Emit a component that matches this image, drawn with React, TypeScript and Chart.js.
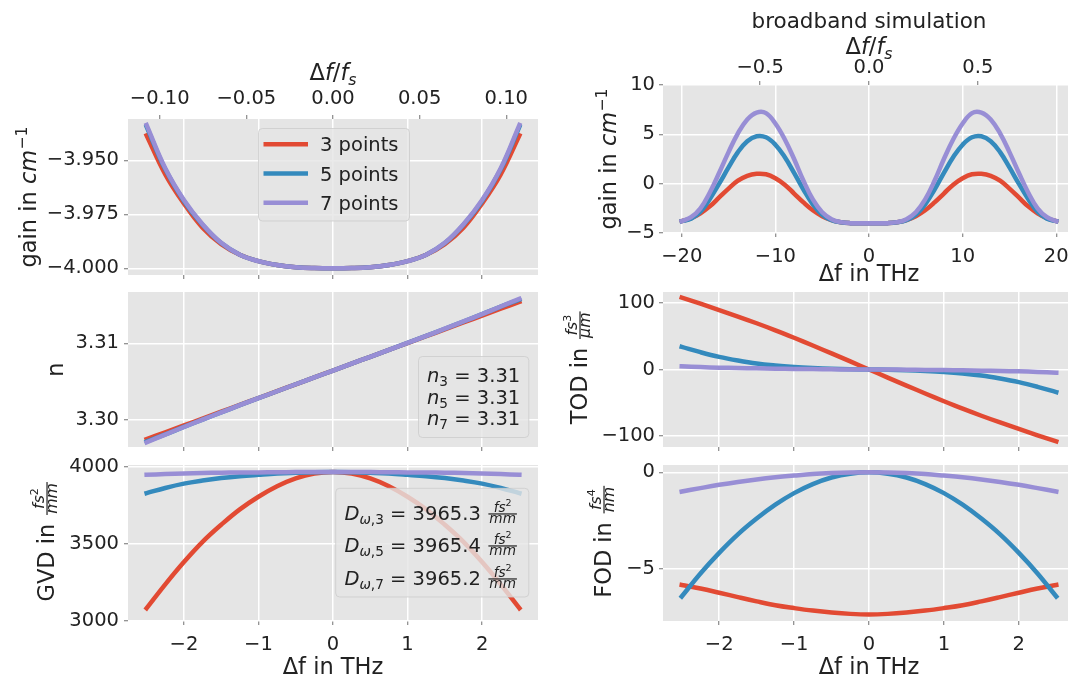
import React, { useEffect, useRef } from 'react';
import { Chart, registerables } from 'chart.js';

Chart.register(...registerables);

// ---------- styling ----------
const RED = '#E24A33';
const BLUE = '#348ABD';
const PURPLE = '#988ED5';
const PLOT_BG = '#E5E5E5';
const TEXT = '#222222';
const TICK = '#707070';
const FAMILY = '"DejaVu Sans", "Liberation Sans", sans-serif';
const TICK_SIZE = 19.5;
const LABEL_SIZE = 22.5;
const TITLE_SIZE = 21.5;
const LEGEND_SIZE = 19.5;
const LINE_WIDTH = 4.5;

const seriesLabels = ['3 points', '5 points', '7 points'];
const seriesColors = [RED, BLUE, PURPLE];

// sampling frequency used for the normalised top axes (THz)
const fS = 23.25;

// ---------- tick positions ----------
const ticksNarrow = [-2, -1, 0, 1, 2];
const ticksWide = [-20, -10, 0, 10, 20];
const ticksNormNarrow = [-0.1, -0.05, 0, 0.05, 0.1];
const ticksNormWide = [-0.5, 0, 0.5];
const ticksGain = [-4.0, -3.975, -3.95];
const ticksIndex = [3.3, 3.31];
const ticksGvd = [3000, 3500, 4000];
const ticksWideGain = [-5, 0, 5, 10];
const ticksTod = [-100, 0, 100];
const ticksFod = [-5, 0];

// ---------- narrowband fits (Δf in THz) ----------
const dfNarrow = [-2.5, -2.25, -2, -1.75, -1.5, -1.25, -1, -0.75, -0.5, -0.25, 0, 0.25, 0.5, 0.75, 1, 1.25, 1.5, 1.75, 2, 2.25, 2.5];

// gain in cm^-1
const gain3 = [-3.9385, -3.9565, -3.9700, -3.9812, -3.9888, -3.9937, -3.9967, -3.9985, -3.9995, -3.9999, -4.0, -3.9999, -3.9995, -3.9985, -3.9967, -3.9937, -3.9888, -3.9812, -3.9700, -3.9565, -3.9385];
const gain5 = [-3.9345, -3.9542, -3.9688, -3.9798, -3.9883, -3.9937, -3.9967, -3.9985, -3.9995, -3.9999, -4.0, -3.9999, -3.9995, -3.9985, -3.9967, -3.9937, -3.9883, -3.9798, -3.9688, -3.9542, -3.9345];
const gain7 = [-3.9337, -3.9537, -3.9684, -3.9796, -3.9882, -3.9937, -3.9967, -3.9985, -3.9995, -3.9999, -4.0, -3.9999, -3.9995, -3.9985, -3.9967, -3.9937, -3.9882, -3.9796, -3.9684, -3.9537, -3.9337];

// refractive index n
const n3 = [3.2975, 3.2984, 3.29929, 3.30019, 3.30108, 3.30198, 3.30287, 3.30377, 3.30466, 3.30556, 3.30645, 3.30735, 3.30824, 3.30914, 3.31003, 3.31093, 3.31182, 3.31272, 3.31361, 3.31451, 3.3154];
const n5 = [3.2972, 3.29812, 3.2991, 3.30005, 3.30099, 3.30193, 3.30284, 3.30375, 3.30466, 3.30555, 3.30645, 3.30735, 3.30824, 3.30915, 3.31006, 3.31097, 3.3119, 3.31284, 3.3138, 3.31478, 3.3157];
const n7 = [3.2971, 3.2981, 3.29909, 3.30005, 3.30099, 3.30193, 3.30284, 3.30375, 3.30466, 3.30555, 3.30645, 3.30735, 3.30824, 3.30915, 3.31006, 3.31097, 3.31191, 3.31285, 3.31381, 3.3148, 3.3158];

// group velocity dispersion in fs^2/mm
const gvd3 = [3081, 3236, 3381, 3512, 3623, 3723, 3805, 3873, 3924, 3955, 3965.3, 3955, 3924, 3873, 3805, 3723, 3623, 3512, 3381, 3236, 3081];
const gvd5 = [3828, 3862, 3890, 3910, 3926, 3938, 3947, 3955, 3960, 3964, 3965.4, 3964, 3960, 3955, 3947, 3938, 3926, 3910, 3890, 3862, 3828];
const gvd7 = [3948, 3952, 3956, 3959, 3961, 3962, 3963, 3964, 3965, 3965, 3965.2, 3965, 3965, 3964, 3963, 3962, 3961, 3959, 3956, 3952, 3948];

// third order dispersion in fs^3/um
const tod3 = [108, 98.8, 89.2, 79.5, 69.4, 58.8, 47.6, 36.0, 24.1, 12.1, 0, -12.1, -24.1, -36.0, -47.6, -58.8, -69.4, -79.5, -89.2, -98.8, -108];
const tod5 = [34, 26, 19, 13.5, 9, 6, 3.8, 2.2, 1, 0.3, 0, -0.3, -1, -2.2, -3.8, -6, -9, -13.5, -19, -26, -34];
const tod7 = [4.7, 3.6, 2.8, 2.2, 1.7, 1.3, 0.9, 0.6, 0.3, 0.1, 0, -0.1, -0.3, -0.6, -0.9, -1.3, -1.7, -2.2, -2.8, -3.6, -4.7];

// fourth order dispersion in fs^4/nm
const fod3 = [-5.85, -6.03, -6.25, -6.48, -6.7, -6.9, -7.05, -7.18, -7.28, -7.35, -7.38, -7.35, -7.28, -7.18, -7.05, -6.9, -6.7, -6.48, -6.25, -6.03, -5.85];
const fod5 = [-6.45, -5.25, -4.18, -3.22, -2.4, -1.68, -1.08, -0.61, -0.27, -0.07, 0, -0.07, -0.27, -0.61, -1.08, -1.68, -2.4, -3.22, -4.18, -5.25, -6.45];
const fod7 = [-1.0, -0.82, -0.65, -0.5, -0.37, -0.26, -0.17, -0.09, -0.04, -0.01, 0, -0.01, -0.04, -0.09, -0.17, -0.26, -0.37, -0.5, -0.65, -0.82, -1.0];

// ---------- broadband simulation (Δf in THz) ----------
const dfWide = [-20, -19, -18, -17, -16, -15, -14, -13, -12, -11, -10, -9, -8, -7, -6, -5, -4, -3, -2, -1, 0, 1, 2, 3, 4, 5, 6, 7, 8, 9, 10, 11, 12, 13, 14, 15, 16, 17, 18, 19, 20];
const wideGain3 = [-3.8, -3.5, -3.0, -2.3, -1.4, -0.5, 0.3, 0.8, 1.0, 0.95, 0.55, -0.1, -1.0, -1.9, -2.7, -3.3, -3.7, -3.92, -4.0, -4.0, -4.0, -4.0, -4.0, -3.92, -3.7, -3.3, -2.7, -1.9, -1.0, -0.1, 0.55, 0.95, 1.0, 0.8, 0.3, -0.5, -1.4, -2.3, -3.0, -3.5, -3.8];
const wideGain5 = [-3.8, -3.55, -2.85, -1.55, 0.0, 1.65, 3.2, 4.3, 4.8, 4.7, 3.95, 2.7, 1.1, -0.6, -2.1, -3.15, -3.7, -3.92, -4.0, -4.0, -4.0, -4.0, -4.0, -3.92, -3.7, -3.15, -2.1, -0.6, 1.1, 2.7, 3.95, 4.7, 4.8, 4.3, 3.2, 1.65, 0.0, -1.55, -2.85, -3.55, -3.8];
const wideGain7 = [-3.8, -3.4, -2.5, -0.9, 1.1, 3.2, 5.1, 6.5, 7.2, 7.15, 6.1, 4.5, 2.5, 0.3, -1.6, -2.9, -3.6, -3.9, -4.0, -4.0, -4.0, -4.0, -4.0, -3.9, -3.6, -2.9, -1.6, 0.3, 2.5, 4.5, 6.1, 7.15, 7.2, 6.5, 5.1, 3.2, 1.1, -0.9, -2.5, -3.4, -3.8];

// ---------- math-ish text rendering ----------
type Tok = { t: string; it?: boolean; pos?: 'sup' | 'sub' } | { num: Tok[]; den: Tok[] };

function setFont(ctx: CanvasRenderingContext2D, size: number, it?: boolean) {
  ctx.font = `${it ? 'italic ' : ''}${size}px ${FAMILY}`;
}

function tokWidth(ctx: CanvasRenderingContext2D, tk: Tok, size: number): number {
  if ('num' in tk) {
    const s = size * 0.7;
    return Math.max(runWidth(ctx, tk.num, s), runWidth(ctx, tk.den, s)) + size * 0.24;
  }
  setFont(ctx, tk.pos ? size * 0.7 : size, tk.it);
  return ctx.measureText(tk.t).width;
}

function runWidth(ctx: CanvasRenderingContext2D, toks: Tok[], size: number): number {
  return toks.reduce((w, tk) => w + tokWidth(ctx, tk, size), 0);
}

function drawRun(ctx: CanvasRenderingContext2D, toks: Tok[], x: number, y: number, size: number) {
  for (const tk of toks) {
    const w = tokWidth(ctx, tk, size);
    if ('num' in tk) {
      const s = size * 0.7;
      const bar = y - size * 0.31;
      const nw = runWidth(ctx, tk.num, s);
      const dw = runWidth(ctx, tk.den, s);
      drawRun(ctx, tk.num, x + (w - nw) / 2, bar - size * 0.12, s);
      drawRun(ctx, tk.den, x + (w - dw) / 2, bar + size * 0.46, s);
      ctx.fillRect(x + size * 0.07, bar - 0.6, w - size * 0.14, 1.2);
    } else {
      const s = tk.pos ? size * 0.7 : size;
      const dy = tk.pos === 'sup' ? -size * 0.42 : tk.pos === 'sub' ? size * 0.2 : 0;
      setFont(ctx, s, tk.it);
      ctx.fillText(tk.t, x, y + dy);
    }
    x += w;
  }
}

function prep(ctx: CanvasRenderingContext2D) {
  ctx.fillStyle = TEXT;
  ctx.textAlign = 'left';
  ctx.textBaseline = 'alphabetic';
}

function hLabel(ctx: CanvasRenderingContext2D, toks: Tok[], cx: number, baseY: number, size: number) {
  prep(ctx);
  const w = runWidth(ctx, toks, size);
  drawRun(ctx, toks, cx - w / 2, baseY, size);
}

function vLabel(ctx: CanvasRenderingContext2D, toks: Tok[], baseX: number, cy: number, size: number) {
  prep(ctx);
  const w = runWidth(ctx, toks, size);
  ctx.save();
  ctx.translate(baseX, cy);
  ctx.rotate(-Math.PI / 2);
  drawRun(ctx, toks, -w / 2, 0, size);
  ctx.restore();
}

function textAt(ctx: CanvasRenderingContext2D, toks: Tok[], x: number, baseY: number, size: number) {
  prep(ctx);
  drawRun(ctx, toks, x, baseY, size);
}

function frame(ctx: CanvasRenderingContext2D, l: number, t: number, r: number, b: number) {
  ctx.save();
  ctx.beginPath();
  const rr = (ctx as any).roundRect;
  if (rr) (ctx as any).roundRect(l, t, r - l, b - t, 4);
  else ctx.rect(l, t, r - l, b - t);
  ctx.fillStyle = 'rgba(229,229,229,0.8)';
  ctx.fill();
  ctx.strokeStyle = 'rgba(204,204,204,0.8)';
  ctx.lineWidth = 1;
  ctx.stroke();
  ctx.restore();
}

const tGain: Tok[] = [{ t: 'gain in ' }, { t: 'cm', it: true }, { t: '\u22121', pos: 'sup' }];
const tNorm: Tok[] = [{ t: '\u0394' }, { t: 'f', it: true }, { t: '/' }, { t: 'f', it: true }, { t: 's', it: true, pos: 'sub' }];
const tTHz: Tok[] = [{ t: '\u0394f in THz' }];
const tN: Tok[] = [{ t: 'n' }];
const tGVD: Tok[] = [{ t: 'GVD in ' }, { num: [{ t: 'fs', it: true }, { t: '2', pos: 'sup' }], den: [{ t: 'mm', it: true }] }];
const tTOD: Tok[] = [{ t: 'TOD in ' }, { num: [{ t: 'fs', it: true }, { t: '3', pos: 'sup' }], den: [{ t: '\u03bcm', it: true }] }];
const tFOD: Tok[] = [{ t: 'FOD in ' }, { num: [{ t: 'fs', it: true }, { t: '4', pos: 'sup' }], den: [{ t: 'nm', it: true }] }];
const fsPerMm: Tok = { num: [{ t: 'fs', it: true }, { t: '2', pos: 'sup' }], den: [{ t: 'mm', it: true }] };

const mid = (a: number[]) => a[Math.floor(a.length / 2)];
const nLine = (order: string, vals: number[]): Tok[] => [
  { t: 'n', it: true }, { t: order, pos: 'sub' }, { t: ` = ${mid(vals).toFixed(2)}` },
];
const dLine = (order: string, vals: number[]): Tok[] => [
  { t: 'D', it: true }, { t: '\u03c9', it: true, pos: 'sub' }, { t: `,${order}`, pos: 'sub' },
  { t: ` = ${mid(vals).toFixed(1)} ` }, fsPerMm,
];

// ---------- panels ----------
type Box = { x0: number; y0: number; x1: number; y1: number };
type Area = { l: number; t: number; r: number; b: number };
type AxisSpec = { min: number; max: number; ticks: number[]; digits: number; labels?: boolean; pad?: number };
type PanelSpec = {
  key: string;
  box: Box;
  area: Area;
  xs: number[];
  series: number[][];
  x: AxisSpec;
  y: AxisSpec;
  top?: AxisSpec;
  decor: (ctx: CanvasRenderingContext2D) => void;
};

const fmt = (digits: number) => (v: number | string) => {
  const n = Math.abs(Number(v)) < 1e-9 ? 0 : Number(v);
  return n.toFixed(digits).replace('-', '\u2212');
};

const bgPlugin = {
  id: 'plotBackground',
  beforeDraw(chart: any) {
    const { ctx, chartArea: a } = chart;
    ctx.save();
    ctx.fillStyle = PLOT_BG;
    ctx.fillRect(a.left, a.top, a.right - a.left, a.bottom - a.top);
    ctx.restore();
  },
};

function noPadding(sc: any) {
  sc.paddingTop = 0;
  sc.paddingBottom = 0;
  sc.paddingLeft = 0;
  sc.paddingRight = 0;
}

function buildConfig(s: PanelSpec): any {
  const { box, area } = s;
  const tickFont = { family: FAMILY, size: TICK_SIZE };
  const grid = { color: '#ffffff', lineWidth: 1.5, drawTicks: true, tickLength: 4, tickColor: TICK, tickWidth: 1 };
  const axis = (a: AxisSpec, position: string, size: (sc: any) => void, onArea: boolean) => ({
    type: 'linear',
    axis: position === 'left' ? 'y' : 'x',
    position,
    min: a.min,
    max: a.max,
    ticks: {
      display: a.labels !== false,
      font: tickFont,
      color: TEXT,
      padding: a.pad ?? 4,
      maxRotation: 0,
      autoSkip: false,
      callback: fmt(a.digits),
    },
    afterBuildTicks: (sc: any) => { sc.ticks = a.ticks.map((value) => ({ value })); },
    grid: { ...grid, drawOnChartArea: onArea },
    border: { display: false },
    afterFit: (sc: any) => { size(sc); noPadding(sc); },
  });
  const scales: any = {
    x: axis(s.x, 'bottom', (sc) => { sc.height = box.y1 - area.b; }, true),
    y: axis(s.y, 'left', (sc) => { sc.width = area.l - box.x0; }, true),
  };
  if (s.top) scales.xTop = axis(s.top, 'top', (sc) => { sc.height = area.t - box.y0; }, false);
  return {
    type: 'line',
    data: {
      datasets: s.series.map((ys, i) => ({
        label: seriesLabels[i],
        data: s.xs.map((x, k) => ({ x, y: ys[k] })),
        borderColor: seriesColors[i],
        backgroundColor: seriesColors[i],
        borderWidth: LINE_WIDTH,
        pointRadius: 0,
        fill: false,
        tension: 0.4,
        borderCapStyle: 'square',
        borderJoinStyle: 'round',
        clip: 0,
        // later series are painted over earlier ones
        order: s.series.length - 1 - i,
        xAxisID: 'x',
        yAxisID: 'y',
      })),
    },
    options: {
      responsive: false,
      maintainAspectRatio: false,
      animation: false,
      events: [],
      layout: { padding: { left: 0, bottom: 0, right: box.x1 - area.r, top: s.top ? 0 : area.t - box.y0 } },
      plugins: { legend: { display: false }, tooltip: { enabled: false }, title: { display: false } },
      scales,
    },
    plugins: [
      bgPlugin,
      {
        id: 'annotations',
        afterDraw(chart: any) {
          const ctx: CanvasRenderingContext2D = chart.ctx;
          ctx.save();
          ctx.translate(-box.x0, -box.y0);
          s.decor(ctx);
          ctx.restore();
        },
      },
    ],
  };
}

const LEFT_X = { x0: 0, x1: 560, l: 128, r: 538 };
const RIGHT_X = { x0: 545, x1: 1100, l: 663, r: 1075 };
const narrowX = { min: -2.75, max: 2.75, ticks: ticksNarrow, digits: 0, pad: 8 };

const panels: PanelSpec[] = [
  {
    key: 'gain',
    box: { x0: LEFT_X.x0, y0: 30, x1: LEFT_X.x1, y1: 287 },
    area: { l: LEFT_X.l, t: 119, r: LEFT_X.r, b: 275 },
    xs: dfNarrow, series: [gain3, gain5, gain7],
    x: { ...narrowX, labels: false },
    y: { min: -4.0031, max: -3.9309, ticks: ticksGain, digits: 3, pad: 5 },
    top: { min: -2.75 / fS, max: 2.75 / fS, ticks: ticksNormNarrow, digits: 2, pad: 4 },
    decor: (ctx) => {
      hLabel(ctx, tNorm, 333, 80, LABEL_SIZE);
      vLabel(ctx, tGain, 36, 197, LABEL_SIZE);
      frame(ctx, 258.5, 128.5, 409.5, 221);
      const rows = [144.3, 173.5, 202.7];
      rows.forEach((y, i) => {
        ctx.save();
        ctx.strokeStyle = seriesColors[i];
        ctx.lineWidth = LINE_WIDTH;
        ctx.lineCap = 'butt';
        ctx.beginPath();
        ctx.moveTo(263.5, y);
        ctx.lineTo(308, y);
        ctx.stroke();
        ctx.restore();
        textAt(ctx, [{ t: seriesLabels[i] }], 320, y + 7, LEGEND_SIZE);
      });
    },
  },
  {
    key: 'index',
    box: { x0: LEFT_X.x0, y0: 284, x1: LEFT_X.x1, y1: 460 },
    area: { l: LEFT_X.l, t: 292, r: LEFT_X.r, b: 447 },
    xs: dfNarrow, series: [n3, n5, n7],
    x: { ...narrowX, labels: false },
    y: { min: 3.29648, max: 3.31669, ticks: ticksIndex, digits: 2, pad: 5 },
    decor: (ctx) => {
      vLabel(ctx, tN, 63, 369.5, LABEL_SIZE);
      frame(ctx, 418.5, 356.5, 528.8, 437.5);
      textAt(ctx, nLine('3', n3), 427, 382, LEGEND_SIZE);
      textAt(ctx, nLine('5', n5), 427, 403.7, LEGEND_SIZE);
      textAt(ctx, nLine('7', n7), 427, 425.3, LEGEND_SIZE);
    },
  },
  {
    key: 'gvd',
    box: { x0: LEFT_X.x0, y0: 455, x1: LEFT_X.x1, y1: 682 },
    area: { l: LEFT_X.l, t: 465, r: LEFT_X.r, b: 621 },
    xs: dfNarrow, series: [gvd3, gvd5, gvd7],
    x: { ...narrowX, labels: true },
    y: { min: 2998, max: 4011, ticks: ticksGvd, digits: 0, pad: 5 },
    decor: (ctx) => {
      vLabel(ctx, tGVD, 54, 541, LABEL_SIZE);
      hLabel(ctx, tTHz, 333, 674, LABEL_SIZE);
      frame(ctx, 335.7, 488.3, 528.8, 597);
      textAt(ctx, dLine('3', gvd3), 344.4, 520, LEGEND_SIZE);
      textAt(ctx, dLine('5', gvd5), 344.4, 552, LEGEND_SIZE);
      textAt(ctx, dLine('7', gvd7), 344.4, 585, LEGEND_SIZE);
    },
  },
  {
    key: 'broadband',
    box: { x0: RIGHT_X.x0, y0: 0, x1: RIGHT_X.x1, y1: 290 },
    area: { l: RIGHT_X.l, t: 85, r: RIGHT_X.r, b: 233 },
    xs: dfWide, series: [wideGain3, wideGain5, wideGain7],
    x: { min: -22, max: 22, ticks: ticksWide, digits: 0, labels: true, pad: 8 },
    y: { min: -5, max: 10, ticks: ticksWideGain, digits: 0, pad: 4 },
    top: { min: -22 / fS, max: 22 / fS, ticks: ticksNormWide, digits: 1, pad: 1 },
    decor: (ctx) => {
      hLabel(ctx, [{ t: 'broadband simulation' }], 869, 28, TITLE_SIZE);
      hLabel(ctx, tNorm, 869, 54, LABEL_SIZE);
      vLabel(ctx, tGain, 616, 159, LABEL_SIZE);
      hLabel(ctx, tTHz, 869, 281, LABEL_SIZE);
    },
  },
  {
    key: 'tod',
    box: { x0: RIGHT_X.x0, y0: 284, x1: RIGHT_X.x1, y1: 460 },
    area: { l: RIGHT_X.l, t: 292, r: RIGHT_X.r, b: 447 },
    xs: dfNarrow, series: [tod3, tod5, tod7],
    x: { ...narrowX, labels: false },
    y: { min: -116.3, max: 116.3, ticks: ticksTod, digits: 0, pad: 4 },
    decor: (ctx) => {
      vLabel(ctx, tTOD, 587, 367, LABEL_SIZE);
    },
  },
  {
    key: 'fod',
    box: { x0: RIGHT_X.x0, y0: 455, x1: RIGHT_X.x1, y1: 682 },
    area: { l: RIGHT_X.l, t: 465, r: RIGHT_X.r, b: 621 },
    xs: dfNarrow, series: [fod3, fod5, fod7],
    x: { ...narrowX, labels: true },
    y: { min: -7.72, max: 0.38, ticks: ticksFod, digits: 0, pad: 4 },
    decor: (ctx) => {
      vLabel(ctx, tFOD, 611, 541, LABEL_SIZE);
      hLabel(ctx, tTHz, 869, 674, LABEL_SIZE);
    },
  },
];

function Panel({ spec }: { spec: PanelSpec }) {
  const ref = useRef<HTMLCanvasElement>(null);
  useEffect(() => {
    const canvas = ref.current;
    if (!canvas) return;
    const chart = new Chart(canvas, buildConfig(spec));
    return () => chart.destroy();
  }, [spec]);
  const w = spec.box.x1 - spec.box.x0;
  const h = spec.box.y1 - spec.box.y0;
  return (
    <canvas
      ref={ref}
      width={w}
      height={h}
      style={{ position: 'absolute', left: spec.box.x0, top: spec.box.y0, width: w, height: h }}
    />
  );
}

export default function App() {
  return (
    <div
      style={{
        position: 'absolute', left: 0, top: 0, width: 1068, height: 682,
        overflow: 'hidden', background: '#ffffff',
      }}
    >
      {panels.map((p) => (
        <Panel key={p.key} spec={p} />
      ))}
    </div>
  );
}
